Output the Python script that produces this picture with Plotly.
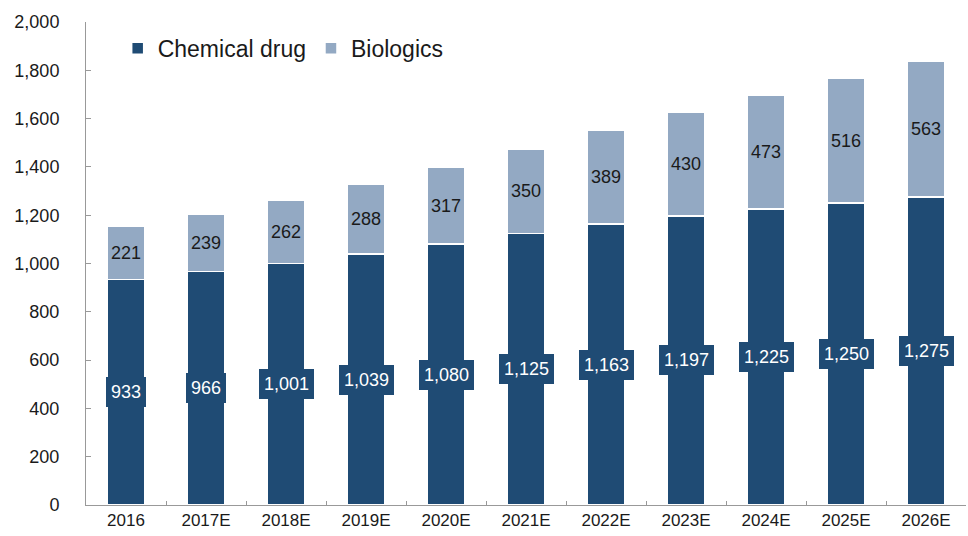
import plotly.graph_objects as go

years = ["2016", "2017E", "2018E", "2019E", "2020E", "2021E", "2022E", "2023E", "2024E", "2025E", "2026E"]
chemical = [933, 966, 1001, 1039, 1080, 1125, 1163, 1197, 1225, 1250, 1275]
biologics = [221, 239, 262, 288, 317, 350, 389, 430, 473, 516, 563]

dark = "#1F4B74"
light = "#93A9C3"
font = "Liberation Sans, Arial, sans-serif"

fig = go.Figure()
fig.add_trace(go.Bar(
    x=years, y=chemical, name="Chemical drug",
    marker=dict(color=dark, line=dict(color="white", width=1.5)),
))
fig.add_trace(go.Bar(
    x=years, y=biologics, name="Biologics",
    marker=dict(color=light, line=dict(color="white", width=1.5)),
    text=[f"{v:,}" for v in biologics], textposition="inside",
    insidetextanchor="middle", textangle=0,
    textfont=dict(color="#1a1a1a", size=18, family=font),
))

for i, c in enumerate(chemical):
    fig.add_annotation(
        x=i, y=c / 2, text=f"{c:,}", showarrow=False,
        font=dict(color="white", size=18, family=font),
        bgcolor=dark, borderpad=5, borderwidth=0,
    )

fig.update_layout(
    barmode="stack", bargap=0.52,
    width=968, height=536,
    margin=dict(l=86, r=2, t=22, b=31),
    paper_bgcolor="white", plot_bgcolor="white",
    font=dict(family=font, size=17, color="#1a1a1a"),
    legend=dict(orientation="h", x=0.036, y=0.99, xanchor="left", yanchor="top",
                font=dict(size=23, family=font), itemwidth=30, traceorder="normal",
                bgcolor="rgba(0,0,0,0)"),
    showlegend=True,
)
fig.update_xaxes(
    type="category", tickangle=0, range=[-0.5, len(years) - 0.5],
    showline=True, linecolor="#999999", linewidth=1,
    ticks="inside", tickson="boundaries", ticklen=4, tickcolor="#999999",
    tickfont=dict(size=17, family=font),
)
fig.update_yaxes(
    range=[0, 2000], dtick=200, tickformat=",",
    showline=True, linecolor="#999999", linewidth=1,
    ticks="inside", ticklen=5, tickcolor="#999999",
    showgrid=False, zeroline=False,
    tickfont=dict(size=18, family=font), ticklabelstandoff=22,
)

fig.write_html("out.html")
